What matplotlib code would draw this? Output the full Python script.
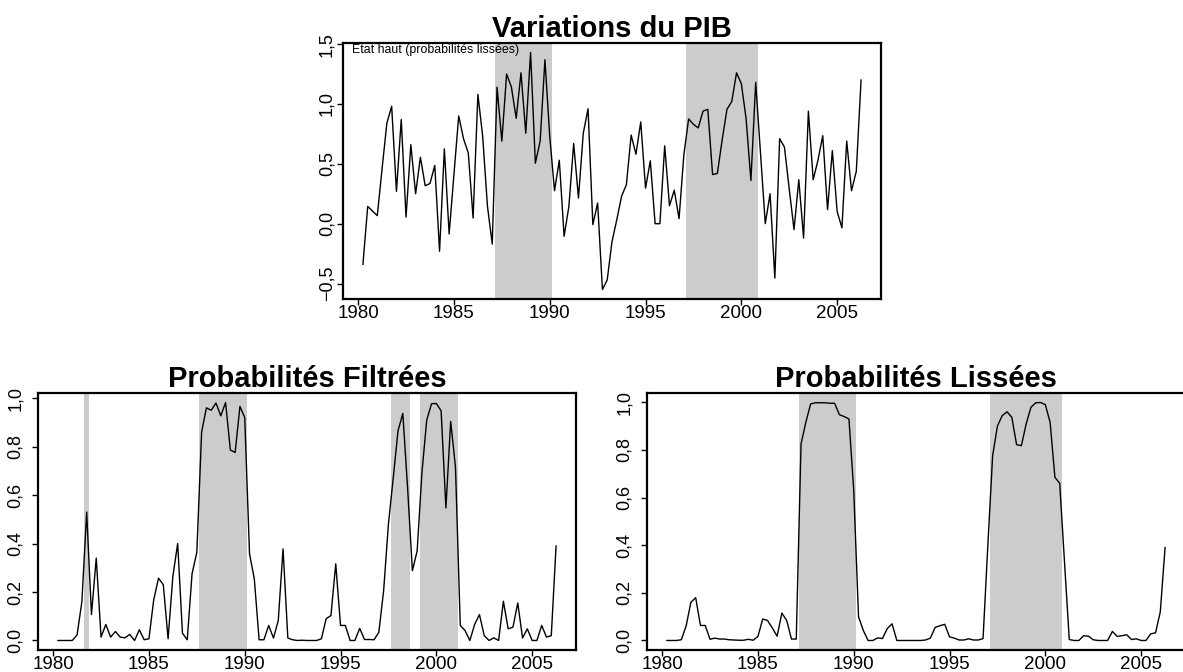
import numpy as np
import matplotlib
matplotlib.use('Agg')
import matplotlib.pyplot as plt
from matplotlib.ticker import FuncFormatter

plt.rcParams['font.family'] = ['Liberation Sans', 'DejaVu Sans']

#---------------------------------DONNEES (trimestrielles, debut 1980 T2)--------------------
annee_debut = 1980.25
frequence = 4

pib_variation = [
    -0.34, 0.144, 0.106, 0.067, 0.46, 0.84, 0.98, 0.27, 0.87, 0.055,
    0.66, 0.25, 0.555, 0.317, 0.336, 0.486, -0.23, 0.625, -0.086, 0.41,
    0.9, 0.71, 0.59, 0.047, 1.08, 0.73, 0.144, -0.17, 1.14, 0.69,
    1.25, 1.14, 0.88, 1.26, 0.755, 1.43, 0.505, 0.69, 1.37, 0.73,
    0.275, 0.53, -0.105, 0.144, 0.67, 0.214, 0.755, 0.96, -0.008, 0.172,
    -0.55, -0.47, -0.15, 0.033, 0.23, 0.325, 0.74, 0.58, 0.85, 0.297,
    0.525, 0.0, 0.0, 0.65, 0.15, 0.28, 0.042, 0.575, 0.875, 0.83,
    0.8, 0.94, 0.955, 0.41, 0.42, 0.70, 0.955, 1.02, 1.26, 1.17,
    0.875, 0.36, 1.18, 0.59, 0.0, 0.25, -0.455, 0.71, 0.64, 0.29,
    -0.05, 0.367, -0.12, 0.94, 0.367, 0.53, 0.735, 0.117, 0.61, 0.103,
    -0.035, 0.69, 0.275, 0.436, 1.2]

proba_filtrees = [
    0.0, 0.0, 0.0, 0.0, 0.023, 0.16, 0.53, 0.107, 0.34, 0.014,
    0.066, 0.014, 0.037, 0.014, 0.011, 0.025, 0.0, 0.044, 0.003, 0.007,
    0.168, 0.257, 0.23, 0.007, 0.265, 0.40, 0.03, 0.003, 0.275, 0.364,
    0.86, 0.96, 0.95, 0.98, 0.927, 0.982, 0.786, 0.776, 0.966, 0.92,
    0.357, 0.254, 0.003, 0.003, 0.062, 0.01, 0.082, 0.378, 0.01, 0.003,
    0.0, 0.001, 0.0, 0.0, 0.0, 0.007, 0.09, 0.103, 0.316, 0.062,
    0.062, 0.0, 0.0, 0.05, 0.004, 0.004, 0.003, 0.034, 0.206, 0.48,
    0.67, 0.865, 0.937, 0.63, 0.288, 0.37, 0.694, 0.91, 0.977, 0.978,
    0.948, 0.547, 0.904, 0.714, 0.062, 0.041, 0.0, 0.066, 0.107, 0.02,
    0.0, 0.011, 0.0, 0.162, 0.048, 0.055, 0.155, 0.01, 0.048, 0.0,
    0.0, 0.062, 0.014, 0.02, 0.39]

proba_lissees = [
    0.0, 0.0, 0.0, 0.003, 0.06, 0.16, 0.18, 0.063, 0.063, 0.005,
    0.01, 0.006, 0.006, 0.003, 0.002, 0.001, 0.001, 0.005, 0.001, 0.017,
    0.09, 0.084, 0.053, 0.018, 0.115, 0.084, 0.006, 0.006, 0.825, 0.916,
    0.993, 0.998, 0.998, 0.998, 0.996, 0.996, 0.948, 0.94, 0.93, 0.63,
    0.10, 0.042, 0.0, 0.0, 0.011, 0.008, 0.05, 0.07, 0.0, 0.0,
    0.0, 0.0, 0.0, 0.0, 0.002, 0.01, 0.055, 0.062, 0.068, 0.015,
    0.01, 0.002, 0.002, 0.007, 0.002, 0.002, 0.008, 0.40, 0.776, 0.90,
    0.944, 0.96, 0.937, 0.822, 0.818, 0.909, 0.979, 0.998, 0.999, 0.99,
    0.916, 0.685, 0.66, 0.33, 0.004, 0.0, 0.0, 0.02, 0.018, 0.003,
    0.0, 0.0, 0.0, 0.038, 0.017, 0.02, 0.024, 0.004, 0.007, 0.0,
    0.0, 0.028, 0.032, 0.12, 0.39]

annees_ticks = [1980, 1985, 1990, 1995, 2000, 2005]
ticks_pib = [-0.5, 0.0, 0.5, 1.0, 1.5]
ticks_proba = [0.0, 0.2, 0.4, 0.6, 0.8, 1.0]

temps = annee_debut + np.arange(len(pib_variation)) / frequence


#--------------------------------FONCTIONS----
def limites(valeurs):
    # comme R : etendue des donnees + 4% de chaque cote
    lo, hi = np.min(valeurs), np.max(valeurs)
    r = hi - lo
    return lo - 0.04 * r, hi + 0.04 * r


def virgule(v, pos):
    return ('%.1f' % v).replace('.', ',').replace('-', '\u2212')


def graphe(rect, valeurs, proba, titre, yticks, pad_y, pad_titre):
    ax = fig.add_axes(rect)
    valeurs = np.array(valeurs)
    lo, hi = limites(valeurs)
    regime = np.array(proba) > 0.5
    ax.bar(temps[regime], hi - lo, width=1 / frequence, bottom=lo,
           color='#cccccc', linewidth=0, zorder=0)
    ax.plot(temps, valeurs, color='black', linewidth=1.0)
    ax.set_xlim(limites(temps))
    ax.set_ylim(lo, hi)
    ax.set_xticks(annees_ticks)
    ax.set_yticks(yticks)
    ax.yaxis.set_major_formatter(FuncFormatter(virgule))
    ax.tick_params(axis='x', length=4, width=1, pad=0.5, labelsize=13.5)
    ax.tick_params(axis='y', length=4, width=1, pad=pad_y, labelsize=13,
                   labelrotation=90)
    for lab in ax.get_yticklabels():
        lab.set_va('center')
    for s in ax.spines.values():
        s.set_linewidth(1.6)
    ax.set_title(titre, fontsize=21, fontweight='bold', pad=pad_titre)
    return ax


#--------------------------------FIGURE----
W, H = 1183, 672
fig = plt.figure(figsize=(W / 100, H / 100), dpi=100)


def px(x0, y0, x1, y1):
    return [x0 / W, 1 - y1 / H, (x1 - x0) / W, (y1 - y0) / H]


ax1 = graphe(px(343, 43, 881, 299), pib_variation, proba_lissees,
             'Variations du PIB', ticks_pib, 1.5, 2)
ax1.text(0.016, 0.995, 'Etat haut (probabilités lissées)', transform=ax1.transAxes,
         ha='left', va='top', fontsize=8.9)

ax2 = graphe(px(38, 393, 576, 650), proba_filtrees, proba_filtrees,
             'Probabilités Filtrées', ticks_proba, 6, 4)
ax3 = graphe(px(647, 393, 1185, 650), proba_lissees, proba_lissees,
             'Probabilités Lissées', ticks_proba, 6, 4)

fig.savefig('out.png', dpi=100)
